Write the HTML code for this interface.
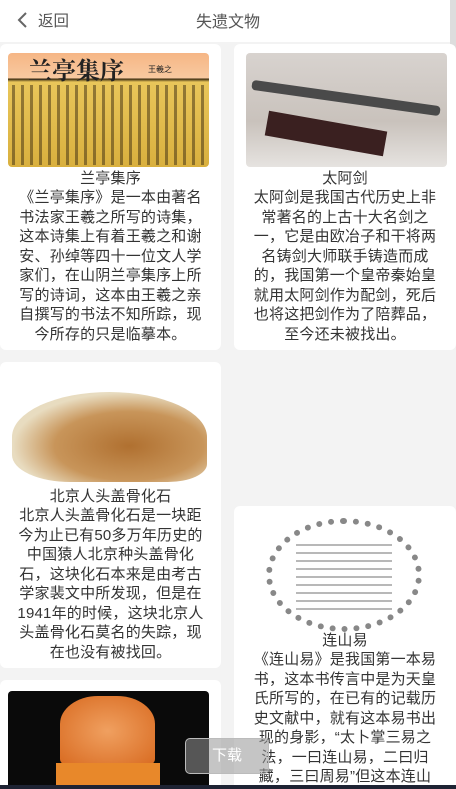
<!DOCTYPE html>
<html><head><meta charset="utf-8">
<style>
*{margin:0;padding:0;box-sizing:border-box}
html,body{width:456px;height:789px;overflow:hidden}
body{background:#f3f3f3;font-family:"Liberation Sans","Noto Sans CJK SC",sans-serif;position:relative;color:#333}
.hdr{position:absolute;left:0;top:0;width:456px;height:42px;background:#fff}
.card{position:absolute;background:#fff;border-radius:6px;overflow:hidden}
.img{position:absolute;border-radius:4px;overflow:hidden}
.t{position:absolute;text-align:center;font-size:15px;letter-spacing:0.2px;line-height:19.5px;white-space:nowrap;color:#333}
</style></head><body>
<div class="hdr">
  <div style="position:absolute;left:16px;top:9px;font-size:15px;color:#555;display:flex;align-items:center">
    <svg width="14" height="18"><path d="M10 2 L3 9 L10 16" fill="none" stroke="#666" stroke-width="2"/></svg>
    <span style="margin-left:8px;font-size:15.5px">返回</span></div>
  <div style="position:absolute;left:0;width:456px;top:8px;text-align:center;font-size:16px;color:#555">失遗文物</div>
</div>
<div style="position:absolute;left:450px;top:0;width:6px;height:300px;background:#ddd"></div>

<div class="card" style="left:0;top:44px;width:221px;height:306px">
 <div class="img" style="left:8px;top:9px;width:201px;height:114px;background:linear-gradient(#f6b685 0,#f8c9a0 25px,#3a2a10 26px,#e9c65a 29px,#d9b03e 100%)">
  <div style="position:absolute;left:20px;top:-2px;font-size:24px;font-weight:bold;color:#222;font-family:'Noto Serif CJK SC',serif">兰亭集序</div>
  <div style="position:absolute;left:140px;top:11px;font-size:8px;color:#222">王羲之</div>
  <div style="position:absolute;left:4px;top:32px;right:4px;bottom:2px;background:repeating-linear-gradient(90deg,#3a2a10 0 3px,transparent 3px 9px);opacity:.5"></div>
 </div>
 <div class="t" style="left:0;width:221px;top:125px">兰亭集序</div>
 <div class="t" style="left:0;width:221px;top:144px">《兰亭集序》是一本由著名<br>书法家王羲之所写的诗集，<br>这本诗集上有着王羲之和谢<br>安、孙绰等四十一位文人学<br>家们，在山阴兰亭集序上所<br>写的诗词，这本由王羲之亲<br>自撰写的书法不知所踪，现<br>今所存的只是临摹本。</div>
</div>

<div class="card" style="left:234px;top:44px;width:222px;height:306px">
 <div class="img" style="left:12px;top:9px;width:201px;height:114px;background:linear-gradient(180deg,#d8d3cf,#c9c2bc 60%,#e6e3e0)">
  <div style="position:absolute;left:5px;top:40px;width:190px;height:10px;background:#4a4a4a;transform:rotate(8deg);border-radius:4px"></div>
  <div style="position:absolute;left:20px;top:68px;width:120px;height:25px;background:#3a2020;transform:rotate(10deg)"></div>
 </div>
 <div class="t" style="left:0;width:222px;top:125px">太阿剑</div>
 <div class="t" style="left:0;width:222px;top:144px">太阿剑是我国古代历史上非<br>常著名的上古十大名剑之<br>一，它是由欧冶子和干将两<br>名铸剑大师联手铸造而成<br>的，我国第一个皇帝秦始皇<br>就用太阿剑作为配剑，死后<br>也将这把剑作为了陪葬品，<br>至今还未被找出。</div>
</div>

<div class="card" style="left:0;top:362px;width:221px;height:306px">
 <div class="img" style="left:8px;top:20px;width:201px;height:103px">
  <div style="position:absolute;left:4px;top:10px;width:195px;height:90px;border-radius:50% 50% 20% 30%;background:radial-gradient(ellipse at 60% 60%,#b07030,#c8955a 45%,#e8dcc0 70%)"></div>
 </div>
 <div class="t" style="left:0;width:221px;top:125px">北京人头盖骨化石</div>
 <div class="t" style="left:0;width:221px;top:144px">北京人头盖骨化石是一块距<br>今为止已有50多万年历史的<br>中国猿人北京种头盖骨化<br>石，这块化石本来是由考古<br>学家裴文中所发现，但是在<br>1941年的时候，这块北京人<br>头盖骨化石莫名的失踪，现<br>在也没有被找回。</div>
</div>

<div class="card" style="left:234px;top:506px;width:222px;height:290px">
 <div class="img" style="left:30px;top:10px;width:160px;height:118px">
  <div style="position:absolute;left:2px;top:2px;width:156px;height:114px;border-radius:50%;border:6px dotted #888"></div>
  <div style="position:absolute;left:32px;top:22px;width:96px;height:72px;background:repeating-linear-gradient(0deg,#999 0 2px,transparent 2px 8px);opacity:.7"></div>
 </div>
 <div class="t" style="left:0;width:222px;top:125px">连山易</div>
 <div class="t" style="left:0;width:222px;top:144px">《连山易》是我国第一本易<br>书，这本书传言中是为天皇<br>氏所写的，在已有的记载历<br>史文献中，就有这本易书出<br>现的身影，“太卜掌三易之<br>法，一曰连山易，二曰归<br>藏，三曰周易”但这本连山</div>
</div>

<div class="card" style="left:0;top:680px;width:221px;height:109px">
 <div class="img" style="left:8px;top:11px;width:201px;height:110px;background:#0a0a0a">
  <div style="position:absolute;left:52px;top:5px;width:95px;height:70px;border-radius:40% 40% 10% 10%;background:radial-gradient(#f0a060,#d86a20)"></div>
  <div style="position:absolute;left:48px;top:72px;width:104px;height:40px;background:#e8882a"></div>
 </div>
</div>

<div style="position:absolute;left:185px;top:738px;width:84px;height:36px;border:1px solid #bbb;border-radius:5px;background:rgba(150,150,150,.55);color:#fff;font-size:15px;line-height:34px;text-align:center">下载</div>
<div style="position:absolute;left:0;top:785px;width:456px;height:4px;background:#1e2333"></div>
</body></html>
